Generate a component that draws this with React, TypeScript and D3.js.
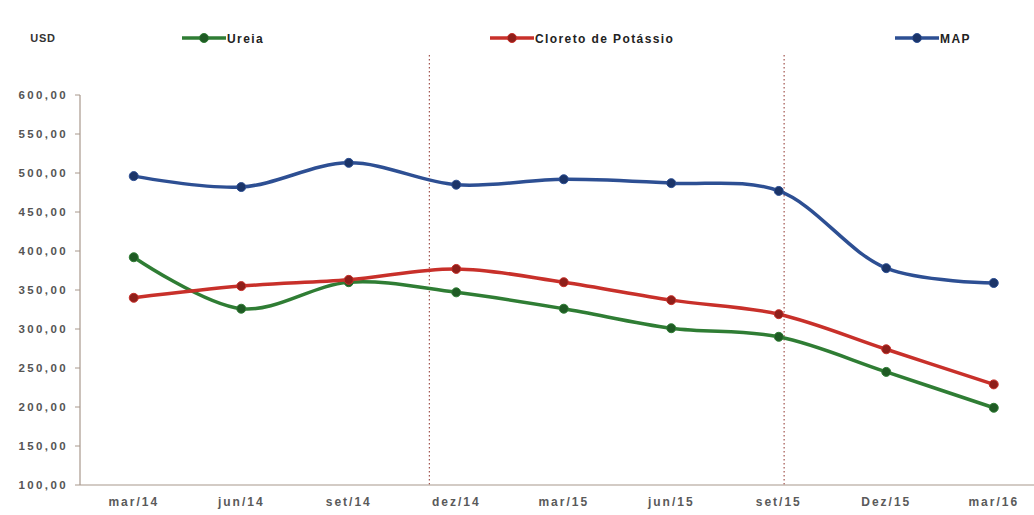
import React from "react";
import * as d3 from "d3";

const categories = ["mar/14", "jun/14", "set/14", "dez/14", "mar/15", "jun/15", "set/15", "Dez/15", "mar/16"];
const ureia = [392, 326, 360, 347, 326, 301, 290, 245, 199];
const cloreto = [340, 355, 363, 377, 360, 337, 319, 274, 229];
const map = [496, 482, 513, 485, 492, 487, 477, 378, 359];
const yTicks = [100, 150, 200, 250, 300, 350, 400, 450, 500, 550, 600];
const markerPositions = [2.75, 6.05];

const seriesList = [
  { name: "Ureia", values: ureia, color: "#2f7d34", dark: "#1f5a24", lx: 182 },
  { name: "Cloreto de Potássio", values: cloreto, color: "#c8302a", dark: "#8e1f1a", lx: 490 },
  { name: "MAP", values: map, color: "#2d4f93", dark: "#1b3468", lx: 895 },
];

export default function App() {
  const W = 1034, H = 515;
  const left = 80, bottom = 485, top = 95;
  const step = 107.5;
  const x = d3.scaleBand<string>().domain(categories).range([left, left + step * categories.length]);
  const xc = (i: number) => left + (i + 0.5) * step;
  const y = d3.scaleLinear().domain([100, 600]).range([bottom, top]);
  const line = d3.line<number>().x((_, i) => (x(categories[i]) as number) + x.bandwidth() / 2).y((v) => y(v)).curve(d3.curveCatmullRom.alpha(0.5));
  const font = "'Liberation Sans', Arial, sans-serif";
  const axisColor = "#a8988c";
  return (
    <svg width={W} height={H} style={{ position: "absolute", left: 0, top: 0, background: "#fff" }}>
      {markerPositions.map((p, i) => (
        <line key={i} x1={xc(p)} x2={xc(p)} y1={55} y2={bottom} stroke="#a0524c" strokeWidth={1.2} strokeDasharray="1.5 2.5" />
      ))}
      <line x1={left} x2={left} y1={top} y2={bottom} stroke={axisColor} strokeWidth={1.2} />
      {yTicks.map((t) => (
        <g key={t}>
          <line x1={left - 5} x2={left} y1={y(t)} y2={y(t)} stroke={axisColor} />
          <text x={68} y={y(t) + 4} textAnchor="end" fontFamily={font} fontSize={11.5} fontWeight="bold" letterSpacing={2.4} fill="#555">
            {d3.format(".2f")(t).replace(".", ",")}
          </text>
        </g>
      ))}
      <line x1={left} x2={W} y1={bottom} y2={bottom} stroke={axisColor} strokeWidth={1.2} />
      {categories.map((c) => (
        <text key={c} x={(x(c) as number) + x.bandwidth() / 2} y={bottom + 21} textAnchor="middle" fontFamily={font} fontSize={12} fontWeight="bold" letterSpacing={2} fill="#5a5a5a">
          {c}
        </text>
      ))}
      {seriesList.map((s) => (
        <g key={s.name}>
          <path d={line(s.values) || ""} fill="none" stroke={s.color} strokeWidth={3.5} strokeLinejoin="round" />
          {s.values.map((v, i) => (
            <circle key={i} cx={(x(categories[i]) as number) + x.bandwidth() / 2} cy={y(v)} r={4.5} fill={s.dark} stroke={s.color} strokeWidth={1} />
          ))}
        </g>
      ))}
      <text x={43} y={42} textAnchor="middle" fontFamily={font} fontSize={11} fontWeight="bold" letterSpacing={0.8} fill="#333">USD</text>
      {seriesList.map((s) => (
        <g key={s.name}>
          <line x1={s.lx} x2={s.lx + 44} y1={38} y2={38} stroke={s.color} strokeWidth={3.5} />
          <circle cx={s.lx + 22} cy={38} r={4.5} fill={s.dark} stroke={s.color} />
          <text x={s.lx + 45} y={42.5} fontFamily={font} fontSize={12} fontWeight="bold" letterSpacing={1.4} fill="#222">{s.name}</text>
        </g>
      ))}
    </svg>
  );
}
